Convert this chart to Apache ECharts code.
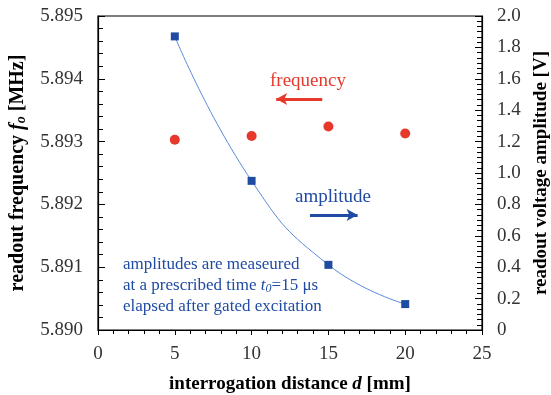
<!DOCTYPE html>
<html>
<head>
    <meta charset="utf-8">
    <title>readout frequency and amplitude</title>
    <script src="https://cdn.jsdelivr.net/npm/echarts@6/dist/echarts.min.js"></script>
</head>
<body style="margin: 0;">
<div id="container" style="width: 551px; height: 395px;"></div>

<script type="text/javascript">
    // interrogation distance d [mm]
    var distance = [5, 10, 15, 20];
    // readout frequency [MHz] (left axis)
    var frequency = [5.89303, 5.89309, 5.89324, 5.89313];
    // readout voltage amplitude [V] (right axis)
    var amplitude = [1.87, 0.95, 0.415, 0.165];

    var serif = 'Liberation Serif';
    var red = '#e6392b';
    var blue = '#1f4ba3';

    var freqData = distance.map(function (d, i) { return [d, frequency[i]]; });
    var ampData = distance.map(function (d, i) { return [d, amplitude[i]]; });

    var dom = document.getElementById("container");
    var myChart = echarts.init(dom);

    var tickStyle = {color: '#000', width: 1};
    var option = {
        animation: false,
        grid: {
            left: 98, right: 69, top: 16, bottom: 65,
            outerBoundsMode: 'none',
            show: true, borderColor: '#000', borderWidth: 1.2
        },
        xAxis: {
            type: 'value', min: 0, max: 25, interval: 5,
            name: '{b|interrogation distance }{bi|d}{b| [mm]}',
            nameLocation: 'middle', nameGap: 45,
            nameTextStyle: {
                rich: {
                    b: {fontFamily: serif, fontSize: 19, fontWeight: 'bold', color: '#000'},
                    bi: {fontFamily: serif, fontSize: 19, fontWeight: 'bold', fontStyle: 'italic', color: '#000'}
                }
            },
            axisLine: {lineStyle: {color: '#000', width: 1.2}},
            axisTick: {inside: false, length: 5, lineStyle: tickStyle},
            minorTick: {show: true, splitNumber: 5, length: 4, lineStyle: tickStyle},
            axisLabel: {fontFamily: serif, fontSize: 19, color: '#333', margin: 15},
            splitLine: {show: false}
        },
        yAxis: [{
            type: 'value', min: 5.890, max: 5.895, interval: 0.001,
            position: 'left',
            name: '{b|readout frequency }{bi|f}{sub|o}{b| [MHz]}',
            nameLocation: 'middle', nameGap: 70, nameRotate: 90,
            nameTextStyle: {
                rich: {
                    b: {fontFamily: serif, fontSize: 20, fontWeight: 'bold', color: '#000'},
                    bi: {fontFamily: serif, fontSize: 20, fontWeight: 'bold', fontStyle: 'italic', color: '#000'},
                    sub: {fontFamily: serif, fontSize: 14, fontWeight: 'bold', fontStyle: 'italic', color: '#000', verticalAlign: 'bottom', padding: [7, 0, 0, 0]}
                }
            },
            axisLine: {show: true, lineStyle: {color: '#000', width: 1.2}},
            axisTick: {inside: true, length: 7, lineStyle: tickStyle},
            minorTick: {show: true, splitNumber: 5, length: 5, lineStyle: tickStyle},
            axisLabel: {
                fontFamily: serif, fontSize: 19, color: '#333', margin: 15,
                formatter: function (v) { return v.toFixed(3); }
            },
            splitLine: {show: false}
        }, {
            type: 'value', min: 0, max: 2, interval: 0.2,
            position: 'right',
            name: 'readout voltage amplitude [V]',
            nameLocation: 'middle', nameGap: 50, nameRotate: 90,
            nameTextStyle: {fontFamily: serif, fontSize: 19, fontWeight: 'bold', color: '#000'},
            axisLine: {show: true, lineStyle: {color: '#000', width: 1.2}},
            axisTick: {inside: true, length: 7, lineStyle: tickStyle},
            minorTick: {show: true, splitNumber: 6, length: 5, lineStyle: tickStyle},
            axisLabel: {
                fontFamily: serif, fontSize: 19, color: '#333', margin: 15,
                formatter: function (v) { return v === 0 ? '0' : v.toFixed(1); }
            },
            splitLine: {show: false}
        }],
        series: [{
            name: 'frequency',
            type: 'scatter',
            yAxisIndex: 0,
            data: freqData,
            symbol: 'circle',
            symbolSize: 10,
            itemStyle: {color: red, opacity: 1}
        }, {
            name: 'amplitude',
            type: 'line',
            yAxisIndex: 1,
            data: ampData,
            smooth: true,
            symbol: 'rect',
            symbolSize: 8,
            showSymbol: true,
            lineStyle: {color: '#5a8ad8', width: 1},
            itemStyle: {color: blue},
            markLine: {
                silent: true,
                symbol: ['none', 'arrow'],
                symbolSize: [9, 11],
                label: {show: false},
                data: [
                    [{coord: [14.6, 1.471], lineStyle: {color: red, width: 3, type: 'solid'}, itemStyle: {color: red}},
                     {coord: [11.6, 1.471]}],
                    [{coord: [13.8, 0.732], lineStyle: {color: blue, width: 3, type: 'solid'}, itemStyle: {color: blue}},
                     {coord: [16.9, 0.732]}]
                ]
            }
        }],
        graphic: [{
            type: 'text', x: 308, y: 81,
            style: {text: 'frequency', fill: red, font: '19px "Liberation Serif"', align: 'center', verticalAlign: 'middle'}
        }, {
            type: 'text', x: 333, y: 197,
            style: {text: 'amplitude', fill: blue, font: '19px "Liberation Serif"', align: 'center', verticalAlign: 'middle'}
        }, {
            type: 'text', x: 123, y: 254,
            style: {
                text: 'amplitudes are measeured\n{n|at a prescribed time }{i|t}{s|0}{n|=15 μs}\nelapsed after gated excitation',
                fill: blue, fontFamily: serif, fontSize: 17, lineHeight: 21,
                rich: {
                    n: {fill: blue, fontFamily: serif, fontSize: 17, lineHeight: 21},
                    i: {fill: blue, fontFamily: serif, fontSize: 17, fontStyle: 'italic', lineHeight: 21},
                    s: {fill: blue, fontFamily: serif, fontSize: 12, fontStyle: 'italic', padding: [7, 0, 0, 0], lineHeight: 21}
                }
            }
        }]
    };
    myChart.setOption(option, true);
</script>
</body>
</html>
